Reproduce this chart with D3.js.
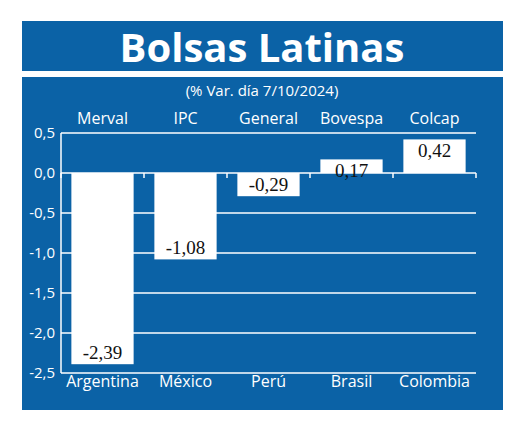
<!DOCTYPE html><html><head><meta charset="utf-8"><script src="https://cdn.jsdelivr.net/npm/d3@7"></script>
<style>body{margin:0;background:#fff}</style></head><body><svg width="520" height="425"></svg>
<script>
const indices=["Merval","IPC","General","Bovespa","Colcap"];
const countries=["Argentina","México","Perú","Brasil","Colombia"];
const values=[-2.39,-1.08,-0.29,0.17,0.42];
const labels=["-2,39","-1,08","-0,29","0,17","0,42"];
const ticks=[0.5,0,-0.5,-1,-1.5,-2,-2.5];
const blue="#0b62a6";
const svg=d3.select("svg");
const f="Liberation Sans Narrow, Open Sans, sans-serif";
svg.append("rect").attr("x",22).attr("y",21).attr("width",481).attr("height",50).attr("fill",blue);
svg.append("rect").attr("x",22).attr("y",77).attr("width",481).attr("height",333).attr("fill",blue);
svg.append("text").attr("x",262).attr("y",62).attr("text-anchor","middle").attr("fill","#fff")
 .attr("font-family","Open Sans, sans-serif").attr("font-weight","bold").attr("font-size",40).text("Bolsas Latinas");
svg.append("text").attr("x",262).attr("y",96).attr("text-anchor","middle").attr("fill","#fff")
 .attr("font-family",f).attr("font-size",15).text("(% Var. día 7/10/2024)");
const x=d3.scaleBand().domain(indices).range([61,476]).paddingInner(0.25).paddingOuter(0.125);
const y=d3.scaleLinear().domain([-2.5,0.5]).range([373,133]);
ticks.forEach(t=>{
 svg.append("line").attr("x1",61).attr("x2",476).attr("y1",y(t)).attr("y2",y(t)).attr("stroke","#fff").attr("stroke-width",1.3);
 svg.append("text").attr("x",55).attr("y",y(t)+5).attr("text-anchor","end").attr("fill","#fff").attr("font-family",f).attr("font-size",15).text(d3.format(".1f")(t).replace(".",",").replace("−","-"));
});
svg.append("line").attr("x1",61).attr("x2",61).attr("y1",133).attr("y2",373).attr("stroke","#fff").attr("stroke-width",1.5);
d3.range(6).forEach(i=>{const xx=61+i*83;svg.append("line").attr("x1",xx).attr("x2",xx).attr("y1",y(0)).attr("y2",y(0)+5).attr("stroke","#fff").attr("stroke-width",1.5);});
indices.forEach((d,i)=>{
 const v=values[i],xc=x(d)+x.bandwidth()/2;
 svg.append("rect").attr("x",x(d)).attr("width",x.bandwidth()).attr("y",y(Math.max(0,v))).attr("height",Math.abs(y(v)-y(0))).attr("fill","#fff");
 svg.append("text").attr("x",xc).attr("y",124).attr("text-anchor","middle").attr("fill","#fff").attr("font-family",f).attr("font-size",16).text(d);
 svg.append("text").attr("x",xc).attr("y",387).attr("text-anchor","middle").attr("fill","#fff").attr("font-family",f).attr("font-size",16).text(countries[i]);
 const ly=v<0?y(v)-5:y(v)+18;
 svg.append("text").attr("x",xc).attr("y",ly).attr("text-anchor","middle").attr("fill","#111").attr("font-family","Liberation Serif, serif").attr("font-size",19).text(labels[i]);
});
</script></body></html>
